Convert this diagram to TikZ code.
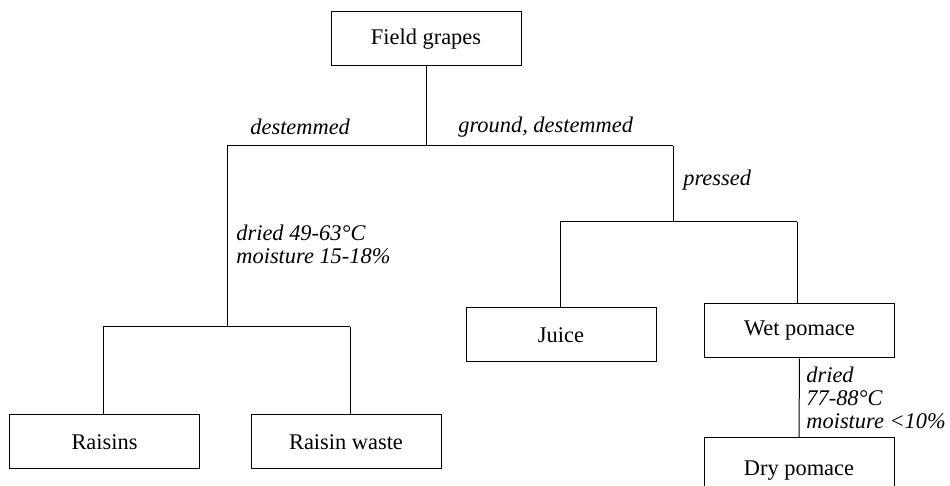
\documentclass[tikz,border=0pt]{standalone}
\usepackage{fontspec}
\setmainfont{Liberation Serif}
\begin{document}
\begin{tikzpicture}[x=0.5pt,y=-0.5pt,
  every node/.style={font=\fontsize{11.2}{11.5}\selectfont},
  box/.style={draw,line width=0.5pt,minimum width=95pt,minimum height=27pt,inner sep=0pt},
  lbl/.style={anchor=west,inner sep=0pt,font=\fontsize{11.2}{11.5}\selectfont\itshape,align=left},
  conn/.style={line width=0.5pt}]
\clip (0,0) rectangle (950,486);
% boxes
\node[box] (field) at (426,39) {Field grapes};
\node[box] (juice) at (561,335) {Juice};
\node[box] (wet) at (799.5,331) {Wet pomace};
\node[box,minimum height=29pt,text depth=0pt] (dry) at (799,467) {\raisebox{-1.5pt}{Dry pomace}};
\node[box] (raisins) at (104.5,442) {Raisins};
\node[box] (waste) at (346,442) {Raisin waste};
% junction coordinates
\coordinate (j0) at (426,146);
\coordinate (jl) at (227,146);
\coordinate (jr) at (673,146);
\coordinate (jp) at (673,222);
\coordinate (jpl) at (560,222);
\coordinate (jpr) at (797,222);
\coordinate (jd) at (227,327);
\coordinate (jdl) at (103,327);
\coordinate (jdr) at (350,327);
% connectors
\draw[conn] (field.south) -- (j0);
\draw[conn] (jl) -- (jr);
\draw[conn] (jr) -- (jp);
\draw[conn] (jpl) -- (jpr);
\draw[conn] (jpl) -- (jpl |- juice.north);
\draw[conn] (jpr) -- (jpr |- wet.north);
\draw[conn] (wet.south) -- (dry.north);
\draw[conn] (jl) -- (jd);
\draw[conn] (jdl) -- (jdr);
\draw[conn] (jdl) -- (jdl |- raisins.north);
\draw[conn] (jdr) -- (jdr |- waste.north);
% labels
\node[lbl] (l1) at (250,127) {destemmed};
\node[lbl] (l2) at (458,127) {ground, destemmed};
\node[lbl] (l3) at (683,180) {pressed};
\node[lbl] (l4) at (236,244.5) {dried 49-63°C\\moisture 15-18\%};
\node[lbl] (l5) at (806,398) {dried\\77-88°C\\moisture <10\%};
\end{tikzpicture}
\end{document}
